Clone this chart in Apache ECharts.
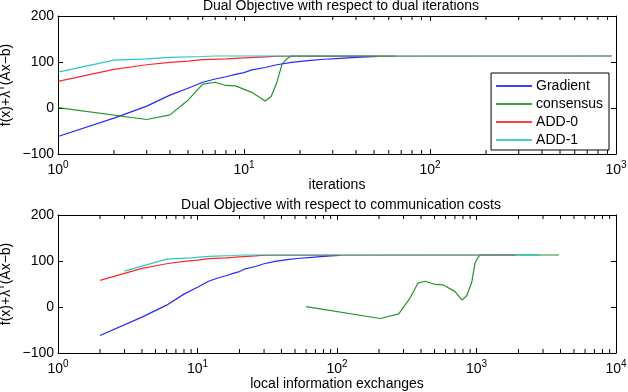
<!DOCTYPE html>
<html>
<head>
<meta charset="utf-8">
<script src="https://cdn.jsdelivr.net/npm/echarts@6/dist/echarts.min.js"></script>
<style>
  html, body { margin: 0; padding: 0; background: #fff; }
  #chart { width: 628px; height: 392px; }
</style>
</head>
<body>
<div id="chart"></div>
<script>
// 数据：上图按迭代次数，下图按通信量
const seriesNames = ["Gradient", "consensus", "ADD-0", "ADD-1"];
const seriesColors = ["#0000ff", "#008000", "#ff0000", "#00bfbf"];

const gradIter = [1, 2, 3, 4, 5, 6, 7, 8, 9, 10, 11, 13, 15, 18, 22, 27, 33, 40, 52];
const gradComm = [2, 4, 6, 8, 10, 12, 14, 16, 18, 20, 22, 26, 30, 36, 44, 54, 66, 80, 104];
const gradVal  = [-62, -22, 4, 28, 43, 56, 63, 68, 73, 77, 83, 88, 94, 99, 103, 106, 108, 110, 112];

const consIter = [1, 3, 4, 5, 6, 7, 8, 9, 11, 13, 14, 15, 16, 17, 18, 65];
const consComm = [60, 204, 277, 330, 381, 429, 506, 577, 700, 787, 853, 926, 975, 1020, 1060, 3900];
const consVal  = [1, -25, -15, 17, 52, 56, 49, 48, 34, 15, 25, 55, 95, 107, 113, 113];

const add0Iter = [1, 2, 3, 4, 5, 6, 8, 10, 13, 15, 950];
const add0Comm = [2, 4, 6, 8, 10, 12, 16, 20, 26, 30, 1900];
const add0Val  = [58, 84, 94, 99, 102, 105, 107, 109, 111, 112.5, 113];

const add1Iter = [1, 2, 3, 4, 6, 7, 950];
const add1Comm = [3, 6, 9, 12, 18, 21, 2850];
const add1Val  = [78, 104, 107, 110, 112, 113, 113];

const topTitle = "Dual Objective with respect to dual iterations";
const botTitle = "Dual Objective with respect to communication costs";
const yName = "{n|f(x)+λ}{s|T}{n|(Ax−b)}";

const pair = (xs, ys) => xs.map((x, i) => [x, ys[i]]);
const topData = [pair(gradIter, gradVal), pair(consIter, consVal), pair(add0Iter, add0Val), pair(add1Iter, add1Val)];
const botData = [pair(gradComm, gradVal), pair(consComm, consVal), pair(add0Comm, add0Val), pair(add1Comm, add1Val)];

const FONT = "Liberation Sans, Arial, sans-serif";
const txt = { color: "#000", fontFamily: FONT, fontSize: 14 };

// 对数刻度标签 10^n
const powLabel = v => "{b|10}{e|" + Math.round(Math.log10(v)) + "}";
const yLabel = v => (v < 0 ? "−" + Math.abs(v) : String(v));

// 次刻度 2..9 × 10^k
function minorTicks(maxExp) {
  const out = [];
  for (let k = 0; k < maxExp; k++)
    for (let m = 2; m <= 9; m++) out.push([m * Math.pow(10, k), 0]);
  return out;
}

function xAx(grid, max, name, mirror) {
  return {
    type: "log", logBase: 10, gridIndex: grid, min: 1, max: max,
    position: mirror ? "top" : "bottom",
    name: mirror ? "" : name, nameLocation: "middle", nameGap: 24,
    nameTextStyle: txt,
    axisLine: { onZero: false, lineStyle: { color: "#000", width: 1 } },
    axisTick: { inside: true, length: 5, lineStyle: { color: "#000" } },
    axisLabel: mirror ? { show: false } : {
      margin: 6, formatter: powLabel,
      rich: { b: { ...txt }, e: { ...txt, fontSize: 10, padding: [0, 0, 10, 0] } }
    },
    splitLine: { show: false }
  };
}

function yAx(grid, mirror) {
  return {
    type: "value", gridIndex: grid, min: -100, max: 200, interval: 100,
    position: mirror ? "right" : "left",
    name: mirror ? "" : yName, nameLocation: "middle", nameGap: 43, nameMoveOverlap: false,
    nameTextStyle: { ...txt, rich: { n: { ...txt }, s: { ...txt, fontSize: 9, padding: [0, 0, 9, 0] } } },
    axisLine: { show: true, onZero: false, lineStyle: { color: "#000", width: 1 } },
    axisTick: { show: true, inside: true, length: 5, lineStyle: { color: "#000" } },
    axisLabel: mirror ? { show: false } : { ...txt, margin: 4, formatter: yLabel },
    splitLine: { show: false }
  };
}

function lines(data, xi, yi) {
  return data.map((d, i) => ({
    name: seriesNames[i], type: "line", xAxisIndex: xi, yAxisIndex: yi,
    data: d, symbol: "none", smooth: false, animation: false,
    lineStyle: { color: seriesColors[i], width: 1.2, opacity: 0.85 },
    itemStyle: { color: seriesColors[i] }
  }));
}

function minorSeries(maxExp, xi, yi) {
  return {
    type: "custom", xAxisIndex: xi, yAxisIndex: yi, silent: true, animation: false,
    data: minorTicks(maxExp), clip: false,
    renderItem: (params, api) => {
      const p0 = api.coord([api.value(0), -100]);
      const p1 = api.coord([api.value(0), 200]);
      const st = { stroke: "#000", lineWidth: 1 };
      return { type: "group", children: [
        { type: "line", shape: { x1: p0[0], y1: p0[1], x2: p0[0], y2: p0[1] - 4 }, style: st },
        { type: "line", shape: { x1: p1[0], y1: p1[1], x2: p1[0], y2: p1[1] + 4 }, style: st }
      ] };
    }
  };
}

const chart = echarts.init(document.getElementById("chart"), null, { renderer: "canvas" });
chart.setOption({
  backgroundColor: "#fff",
  animation: false,
  title: [
    { text: topTitle, left: 336, textAlign: "center", top: -6, textStyle: { ...txt, fontWeight: "normal" } },
    { text: botTitle, left: 336, textAlign: "center", top: 193, textStyle: { ...txt, fontWeight: "normal" } }
  ],
  grid: [
    { left: 58, right: 12, top: 16, height: 138, outerBoundsMode: "none", containLabel: false },
    { left: 58, right: 12, top: 215, height: 138, outerBoundsMode: "none", containLabel: false }
  ],
  xAxis: [xAx(0, 1000, "iterations", false), xAx(0, 1000, "", true),
          xAx(1, 10000, "local information exchanges", false), xAx(1, 10000, "", true)],
  yAxis: [yAx(0, false), yAx(0, true), yAx(1, false), yAx(1, true)],
  legend: {
    data: seriesNames, orient: "vertical", right: 19, top: 73,
    backgroundColor: "#fff", borderColor: "#000", borderWidth: 1, borderRadius: 0,
    padding: [6, 6, 3, 5], icon: "rect", itemWidth: 36, itemHeight: 1.5, itemGap: 4,
    textStyle: { ...txt, padding: [0, 0, 0, -1] }
  },
  series: [
    ...lines(topData, 0, 0),
    ...lines(botData, 2, 2),
    minorSeries(3, 0, 0),
    minorSeries(4, 2, 2)
  ]
});
</script>
</body>
</html>
